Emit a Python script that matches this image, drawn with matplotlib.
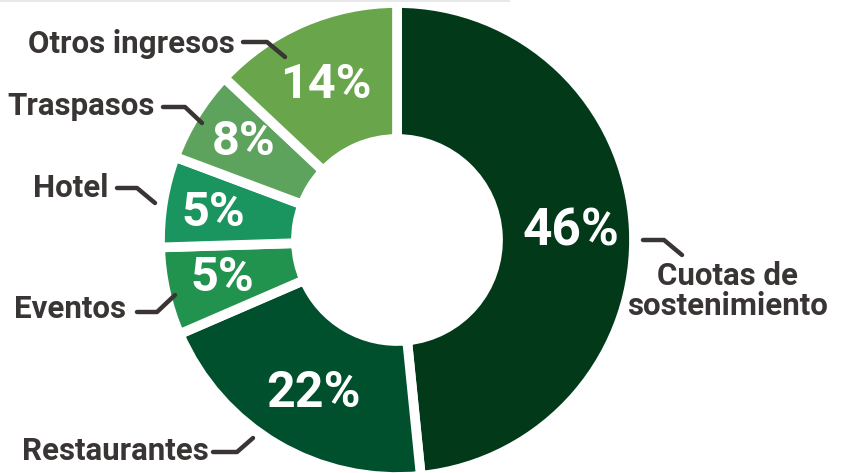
import matplotlib.pyplot as plt
from matplotlib.patches import Rectangle

# slices, clockwise from the top
categories = ['Cuotas de\nsostenimiento', 'Restaurantes', 'Eventos', 'Hotel', 'Traspasos', 'Otros ingresos']
shares = [48.4, 20.1, 6.0, 6.2, 6.3, 13.0]          # slice sizes as drawn
pct_labels = ['46%', '22%', '5%', '5%', '8%', '14%']  # printed values
colors = ['#023a19', '#004f2d', '#22934e', '#1a955f', '#5da35d', '#68a54b']

W, H = 850, 473
cx, cy = 397, 240          # donut centre (px, y down)
r_out, r_in = 237, 101
txt = '#3a3535'

# layout in px (y down): percent label centres, category text anchors, leader lines
pct_pos = [(571, 232), (314, 393), (222, 278), (213, 213), (244, 142), (326, 85)]
pct_size = [37, 36, 35, 35, 35, 35]
cat_pos = [(728, 315, 'center'), (209, 460, 'right'), (126, 318, 'right'),
           (109, 197, 'right'), (155, 115, 'right'), (235, 53, 'right')]
leaders = [
    [(643, 240), (664, 240), (682, 255)],
    [(213, 452), (237, 452), (253, 438)],
    [(137, 312), (157, 312), (175, 295)],
    [(117, 188), (137, 188), (155, 203)],
    [(163, 107), (185, 107), (202, 123)],
    [(243, 42), (267, 42), (285, 57)],
]

plt.rcParams['font.family'] = ['Roboto', 'DejaVu Sans']

fig = plt.figure(figsize=(W / 100, H / 100), dpi=100)
ax = fig.add_axes([0, 0, 1, 1])

def py(y):
    return H - y

ax.pie(shares, colors=colors, radius=r_out, center=(cx, py(cy)),
       startangle=90, counterclock=False,
       wedgeprops=dict(width=r_out - r_in, edgecolor='white', linewidth=7))

for (x, y), s, fs in zip(pct_pos, pct_labels, pct_size):
    ax.text(x, py(y), s, color='white', fontsize=fs, fontweight='bold',
            ha='center', va='center')

for (x, y, ha), s in zip(cat_pos, categories):
    ax.text(x, py(y), s, color=txt, fontsize=22.5, fontweight='bold',
            ha=ha, va='baseline', linespacing=0.98)

for pts in leaders:
    ax.plot([p[0] for p in pts], [py(p[1]) for p in pts], color=txt,
            lw=3.2, solid_capstyle='round', solid_joinstyle='round')

# thin grey strip along the top edge
ax.add_patch(Rectangle((0, py(2)), 510, 2, color='#e8e8e8', lw=0))

ax.set_xlim(0, W)
ax.set_ylim(0, H)
ax.set_aspect('equal')
ax.axis('off')

fig.savefig('out.png', dpi=100)
